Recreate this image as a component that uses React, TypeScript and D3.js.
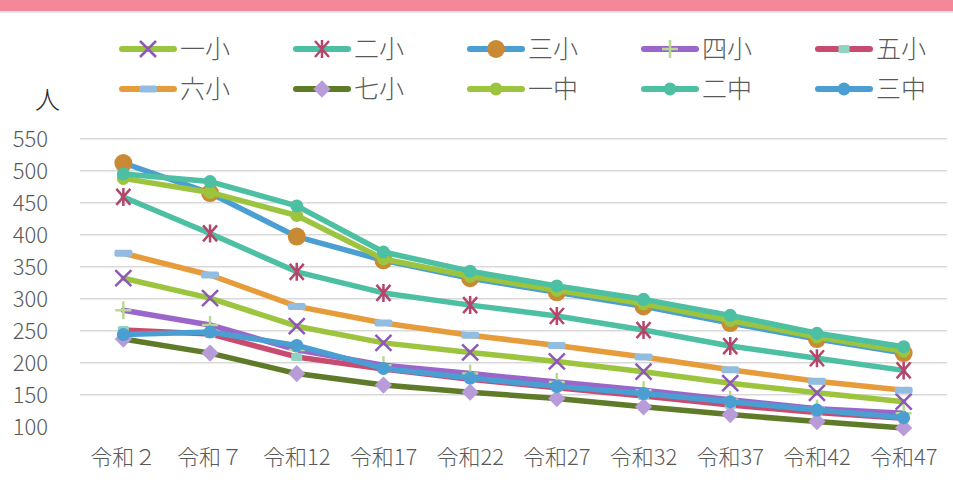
import * as d3 from "d3";

// 年次（x軸）
const categories = ["令和２", "令和７", "令和12", "令和17", "令和22", "令和27", "令和32", "令和37", "令和42", "令和47"];

// 各校の推計人数
const ichiSho = [332, 301, 257, 231, 216, 202, 186, 168, 153, 139];
const niSho = [459, 402, 342, 309, 290, 273, 251, 226, 207, 188];
const sanSho = [512, 465, 397, 360, 332, 310, 288, 262, 237, 215];
const yonSho = [282, 259, 220, 196, 183, 170, 157, 142, 128, 121];
const goSho = [251, 245, 209, 190, 174, 161, 148, 134, 122, 113];
const rokuSho = [371, 337, 288, 262, 243, 227, 209, 189, 171, 157];
const nanaSho = [237, 215, 183, 165, 154, 144, 131, 119, 108, 98];
const ichiChu = [488, 466, 430, 362, 335, 313, 292, 266, 240, 218];
const niChu = [495, 483, 445, 373, 343, 320, 299, 274, 246, 225];
const sanChu = [244, 248, 227, 191, 176, 163, 152, 139, 126, 114];

const yTicks = [100, 150, 200, 250, 300, 350, 400, 450, 500, 550];

type MarkerKind = "x" | "star" | "bigdot" | "plus" | "square" | "dash" | "diamond" | "dot";

const series: { name: string; values: number[]; line: string; marker: MarkerKind; mcolor: string }[] = [
  { name: "一小", values: ichiSho, line: "#9dc43f", marker: "x", mcolor: "#8e58b8" },
  { name: "二小", values: niSho, line: "#4dbfa3", marker: "star", mcolor: "#b4466b" },
  { name: "三小", values: sanSho, line: "#4a9ed1", marker: "bigdot", mcolor: "#c98a35" },
  { name: "四小", values: yonSho, line: "#9b66ca", marker: "plus", mcolor: "#b8da90" },
  { name: "五小", values: goSho, line: "#c84c70", marker: "square", mcolor: "#90d3c2" },
  { name: "六小", values: rokuSho, line: "#e69c3b", marker: "dash", mcolor: "#93bde0" },
  { name: "七小", values: nanaSho, line: "#5f7a29", marker: "diamond", mcolor: "#b89cd9" },
  { name: "一中", values: ichiChu, line: "#9dc43f", marker: "dot", mcolor: "#9dc43f" },
  { name: "二中", values: niChu, line: "#4dbfa3", marker: "dot", mcolor: "#4dbfa3" },
  { name: "三中", values: sanChu, line: "#4a9ed1", marker: "dot", mcolor: "#4a9ed1" },
];

const W = 953;
const H = 483;
const FONT = "'Noto Sans CJK JP', 'Noto Sans', sans-serif";

function Marker({ kind, x, y, color }: { kind: MarkerKind; x: number; y: number; color: string }) {
  switch (kind) {
    case "x":
      return (
        <path d={`M${x - 8},${y - 8}L${x + 8},${y + 8}M${x - 8},${y + 8}L${x + 8},${y - 8}`}
          stroke={color} strokeWidth={2.5} fill="none" />
      );
    case "star":
      return (
        <path d={`M${x - 7},${y - 8}L${x + 7},${y + 8}M${x - 7},${y + 8}L${x + 7},${y - 8}M${x},${y - 9}L${x},${y + 9}`}
          stroke={color} strokeWidth={2.5} fill="none" />
      );
    case "plus":
      return (
        <path d={`M${x - 8},${y}L${x + 8},${y}M${x},${y - 9}L${x},${y + 9}`}
          stroke={color} strokeWidth={2.5} fill="none" />
      );
    case "bigdot":
      return <circle cx={x} cy={y} r={9} fill={color} />;
    case "dot":
      return <circle cx={x} cy={y} r={6.5} fill={color} />;
    case "square":
      return <rect x={x - 5.5} y={y - 4} width={11} height={8} rx={1.5} fill={color} />;
    case "dash":
      return <rect x={x - 9} y={y - 3.5} width={18} height={7} rx={2} fill={color} />;
    case "diamond":
      return <path d={d3.symbol(d3.symbolDiamond2, 190)() || ""} transform={`translate(${x},${y})`} fill={color} />;
  }
  return null;
}

export default function App() {
  const x = d3.scaleBand<string>().domain(categories).range([80, 947]).padding(0);
  const y = d3.scaleLinear().domain([100, 550]).range([426.7, 138.7]);
  const cx = (c: string) => (x(c) ?? 0) + x.bandwidth() / 2;

  const line = d3
    .line<number>()
    .x((_, i) => cx(categories[i]))
    .y((v) => y(v));

  const legendX = d3.scalePoint<number>().domain([0, 1, 2, 3, 4]).range([120, 816]);
  const legendY = [49, 89];

  return (
    <svg width={W} height={H} style={{ position: "absolute", left: 0, top: 0, background: "#fff" }}
      fontFamily={FONT} fontWeight={300}>
      <rect x={0} y={0} width={W} height={11} fill="#f2889a" />
      <rect x={0} y={11} width={W} height={2} fill="#e4e4e4" />

      {/* grid */}
      {yTicks.filter((t) => t > 100).map((t) => (
        <line key={t} x1={80} x2={947} y1={y(t)} y2={y(t)} stroke="#d9d9d9" strokeWidth={1.5} />
      ))}

      {/* y labels */}
      {yTicks.map((t) => (
        <text key={t} x={48} y={y(t) + 8} textAnchor="end" fontSize={22} fill="#595959">{t}</text>
      ))}
      <text x={35} y={109} fontSize={25} fill="#262626">人</text>

      {/* x labels */}
      {categories.map((c) => (
        <text key={c} x={cx(c)} y={465} textAnchor="middle" fontSize={22} fill="#595959">{c}</text>
      ))}

      {/* series */}
      {series.map((s) => (
        <g key={s.name}>
          <path d={line(s.values) || ""} fill="none" stroke={s.line} strokeWidth={5.5}
            strokeLinejoin="round" strokeLinecap="round" />
          {s.values.map((v, i) => (
            <Marker key={i} kind={s.marker} x={cx(categories[i])} y={y(v)} color={s.mcolor} />
          ))}
        </g>
      ))}

      {/* legend */}
      {series.map((s, i) => {
        const lx = legendX(i % 5) ?? 0;
        const ly = legendY[Math.floor(i / 5)];
        return (
          <g key={s.name}>
            <line x1={lx + 2} x2={lx + 54} y1={ly} y2={ly} stroke={s.line} strokeWidth={6} strokeLinecap="round" />
            <Marker kind={s.marker} x={lx + 28} y={ly} color={s.mcolor} />
            <text x={lx + 60} y={ly + 9} fontSize={25} fill="#595959">{s.name}</text>
          </g>
        );
      })}
    </svg>
  );
}
